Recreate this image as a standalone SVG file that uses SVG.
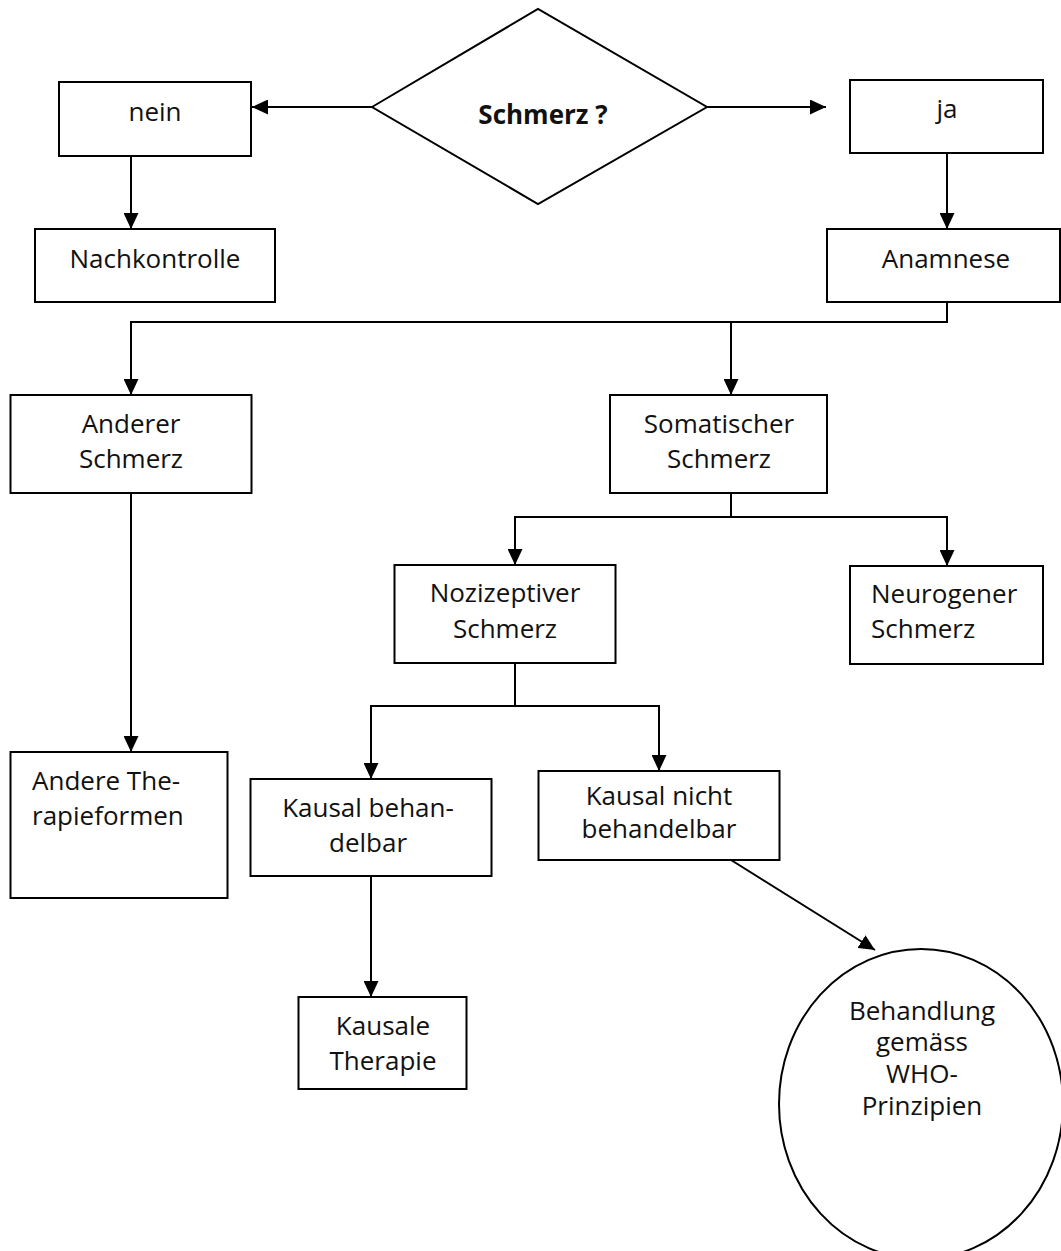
<svg xmlns="http://www.w3.org/2000/svg" width="1061" height="1251" viewBox="0 0 1061 1251">
<style>
.box{fill:#fff;stroke:#000;stroke-width:2}
.con{fill:none;stroke:#000;stroke-width:2}
text{font-family:"Open Sans","Noto Sans",sans-serif;font-size:26px;fill:#111}
.c{text-anchor:middle}
.b{font-weight:bold}
</style>
<defs>
<marker id="ah" viewBox="0 0 16 15" refX="16" refY="7.5" markerWidth="16" markerHeight="15" markerUnits="userSpaceOnUse" orient="auto">
<path d="M0,0 L16,7.5 L0,15 z" fill="#000"/>
</marker>
</defs>
<rect width="1061" height="1251" fill="#fff"/>
<g id="connectors">
<path class="con" d="M372,107 L252,107" marker-end="url(#ah)"/>
<path class="con" d="M707,107 L826,107" marker-end="url(#ah)"/>
<path class="con" d="M131,156 L131,229" marker-end="url(#ah)"/>
<path class="con" d="M947,153 L947,229" marker-end="url(#ah)"/>
<path class="con" d="M947,302 L947,322 L131,322 L131,395" marker-end="url(#ah)"/>
<path class="con" d="M731,322 L731,395" marker-end="url(#ah)"/>
<path class="con" d="M731,493 L731,517"/>
<path class="con" d="M731,517 L515,517 L515,565" marker-end="url(#ah)"/>
<path class="con" d="M731,517 L947,517 L947,566" marker-end="url(#ah)"/>
<path class="con" d="M131,493 L131,752" marker-end="url(#ah)"/>
<path class="con" d="M515,663 L515,706"/>
<path class="con" d="M515,706 L371,706 L371,779" marker-end="url(#ah)"/>
<path class="con" d="M515,706 L659,706 L659,771" marker-end="url(#ah)"/>
<path class="con" d="M371,876 L371,997" marker-end="url(#ah)"/>
<path class="con" d="M731,860 L875,950" marker-end="url(#ah)"/>
</g>
<g id="decision">
<polygon class="box" points="372,107 538,9 707,107 538,204"/>
<text class="c b" x="543" y="124">Schmerz ?</text>
</g>
<g id="nein">
<rect class="box" x="59" y="82" width="192" height="74"/>
<text class="c" x="155" y="121">nein</text>
</g>
<g id="ja">
<rect class="box" x="850" y="80" width="193" height="73"/>
<text class="c" x="947" y="118">ja</text>
</g>
<g id="nachkontrolle">
<rect class="box" x="35" y="229" width="240" height="73"/>
<text class="c" x="155" y="268">Nachkontrolle</text>
</g>
<g id="anamnese">
<rect class="box" x="827" y="229" width="233" height="73"/>
<text class="c" x="946" y="268">Anamnese</text>
</g>
<g id="anderer">
<rect class="box" x="10.5" y="395" width="241" height="98"/>
<text class="c" x="131" y="433">Anderer</text>
<text class="c" x="131" y="468">Schmerz</text>
</g>
<g id="somatischer">
<rect class="box" x="610" y="395" width="217" height="98"/>
<text class="c" x="719" y="433">Somatischer</text>
<text class="c" x="719" y="468">Schmerz</text>
</g>
<g id="nozizeptiver">
<rect class="box" x="394.5" y="565" width="221" height="98"/>
<text class="c" x="505" y="602">Nozizeptiver</text>
<text class="c" x="505" y="638">Schmerz</text>
</g>
<g id="neurogener">
<rect class="box" x="850" y="566" width="193" height="98"/>
<text x="871" y="603">Neurogener</text>
<text x="871" y="638">Schmerz</text>
</g>
<g id="andere-therapie">
<rect class="box" x="10.5" y="752" width="217" height="146"/>
<text x="32" y="790">Andere The-</text>
<text x="32" y="825">rapieformen</text>
</g>
<g id="kausal-behandelbar">
<rect class="box" x="250.5" y="779" width="241" height="97"/>
<text class="c" x="368" y="817">Kausal behan-</text>
<text class="c" x="368" y="852">delbar</text>
</g>
<g id="kausal-nicht">
<rect class="box" x="538.5" y="771" width="241" height="89"/>
<text class="c" x="659" y="805">Kausal nicht</text>
<text class="c" x="659" y="838">behandelbar</text>
</g>
<g id="kausale-therapie">
<rect class="box" x="298.5" y="997" width="168" height="92"/>
<text class="c" x="383" y="1035">Kausale</text>
<text class="c" x="383" y="1070">Therapie</text>
</g>
<g id="who">
<ellipse class="box" cx="921" cy="1104" rx="142" ry="155"/>
<text class="c" x="922" y="1020">Behandlung</text>
<text class="c" x="922" y="1051">gemäss</text>
<text class="c" x="922" y="1083">WHO-</text>
<text class="c" x="922" y="1115">Prinzipien</text>
</g>
</svg>
